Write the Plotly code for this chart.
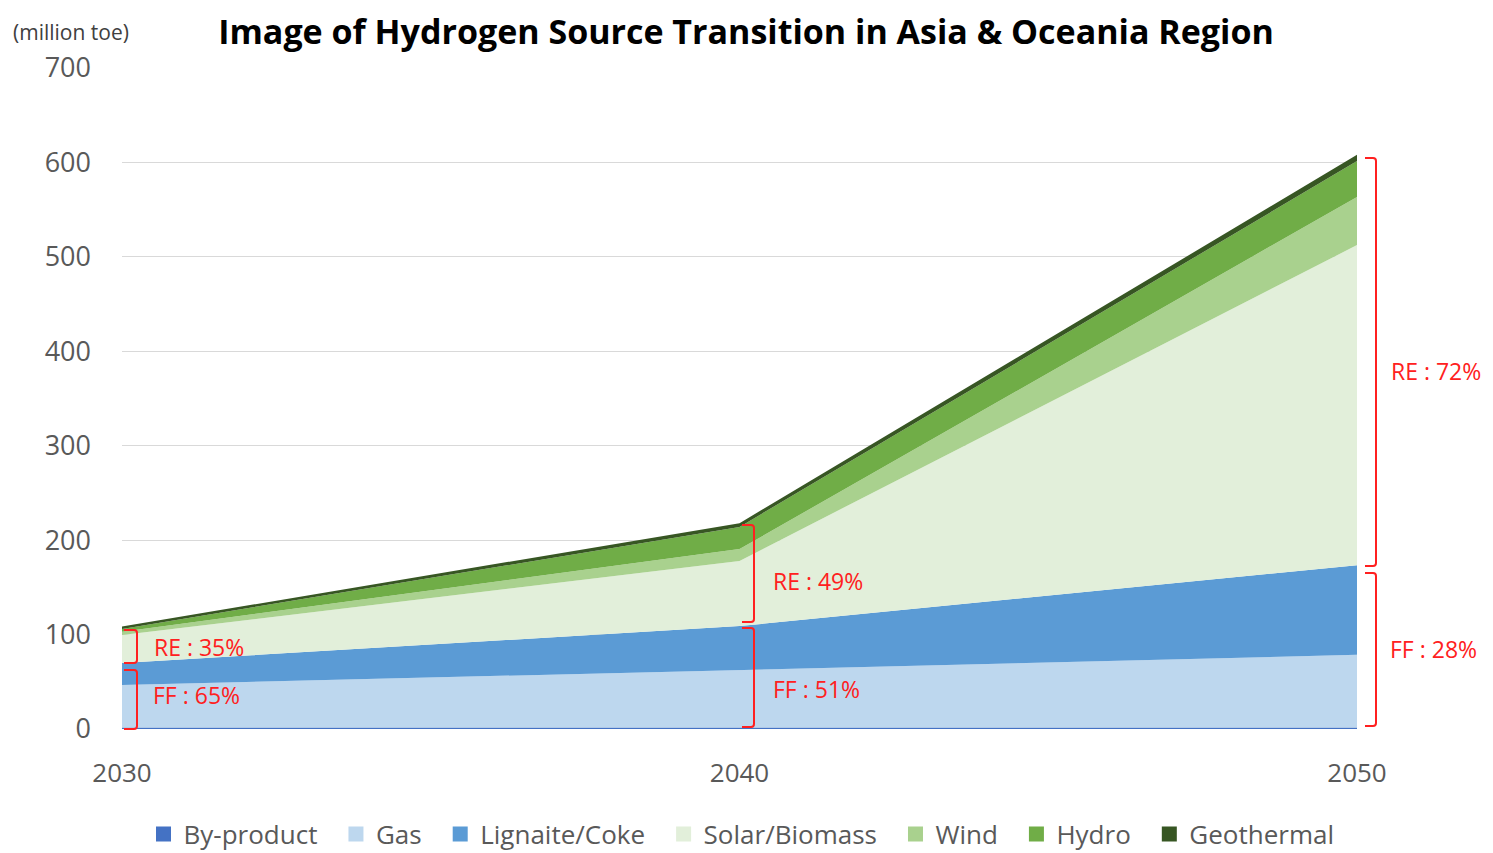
import plotly.graph_objects as go

years = [2030, 2040, 2050]
series_names = ["By-product", "Gas", "Lignaite/Coke", "Solar/Biomass", "Wind", "Hydro", "Geothermal"]
by_product = [1.5, 1.5, 1.5]
gas = [45, 61, 77]
lignite_coke = [23.5, 46.5, 95]
solar_biomass = [29.5, 69, 339]
wind = [3.5, 12.5, 51]
hydro = [3, 23.5, 38]
geothermal = [2.5, 4, 6.5]
colors = ["#4472C4", "#BDD7EE", "#5B9BD5", "#E2EFDA", "#A9D18E", "#70AD47", "#375623"]
share_labels = ["RE : 35%", "FF : 65%", "RE : 49%", "FF : 51%", "RE : 72%", "FF : 28%"]
y_ticks = [0, 100, 200, 300, 400, 500, 600, 700]

values = [by_product, gas, lignite_coke, solar_biomass, wind, hydro, geothermal]

# the page places the figure 8px in from the top-left corner
OFF = 8
W, H = 1485, 845
# plot area in page pixels
PL, PR, PT, PB = 122, 1357, 68, 729
L, R, T, B = PL - OFF, PR - OFF, PT - OFF, PB - OFF


def px(x):
    return (x - PL) / (PR - PL)


def py(y):
    return (PB - y) / (PB - PT)


FONT = "Open Sans"
GRAY = "#595959"
RED = "#FF2020"

fig = go.Figure()
for name, vals, col in zip(series_names, values, colors):
    fig.add_trace(go.Scatter(
        x=years, y=vals, name=name, stackgroup="one", mode="lines",
        line=dict(width=0, color=col), fillcolor=col, showlegend=False,
        hoverinfo="x+y+name",
    ))
for name, col in zip(series_names, colors):
    fig.add_trace(go.Scatter(
        x=[None], y=[None], name=name + "\u00a0\u00a0", mode="markers",
        marker=dict(symbol="square", size=15, color=col), showlegend=True,
    ))

shapes = []


def bracket(xl, xr, yt, yb, r=3):
    path = (f"M {px(xl)},{py(yt)} L {px(xr - r)},{py(yt)} Q {px(xr)},{py(yt)} {px(xr)},{py(yt + r)} "
            f"L {px(xr)},{py(yb - r)} Q {px(xr)},{py(yb)} {px(xr - r)},{py(yb)} L {px(xl)},{py(yb)}")
    shapes.append(dict(type="path", path=path, xref="paper", yref="paper",
                       line=dict(color=RED, width=2)))


bracket(124, 137, 630, 663)
bracket(124, 137, 670, 729)
bracket(742, 754, 525, 622)
bracket(742, 754, 628, 727)
bracket(1365, 1376, 158, 566)
bracket(1365, 1376, 573, 726)

label_pos = [(152, 647), (151, 695), (771, 581), (771, 689), (1389, 371), (1388, 649)]
annotations = []
for txt, (x, y) in zip(share_labels, label_pos):
    annotations.append(dict(text=txt, x=px(x), y=py(y), xref="paper", yref="paper",
                            xanchor="left", yanchor="middle", showarrow=False,
                            font=dict(family=FONT, size=23, color=RED)))
annotations.append(dict(text="(million toe)", x=px(71), y=py(32), xref="paper", yref="paper",
                        xanchor="center", yanchor="middle", showarrow=False,
                        font=dict(family=FONT, size=21, color="#404040")))

fig.update_layout(
    width=W, height=H,
    margin=dict(l=L, r=W - R, t=T, b=H - B),
    paper_bgcolor="white", plot_bgcolor="white",
    title=dict(text="<b>Image of Hydrogen Source Transition in Asia &amp; Oceania Region</b>",
               x=(746 - OFF) / W, xref="container", y=1 - (32 - OFF) / H, yref="container",
               xanchor="center", yanchor="middle",
               font=dict(family=FONT, size=34, color="black")),
    xaxis=dict(range=[2030, 2050], tickvals=years, ticktext=[str(y) for y in years],
               showgrid=False, zeroline=False, showline=False,
               ticks="", ticklabelstandoff=26,
               tickfont=dict(family=FONT, size=26, color=GRAY)),
    yaxis=dict(range=[0, 700], tickvals=y_ticks, showgrid=True, gridcolor="#D9D9D9", gridwidth=1,
               zeroline=False, showline=False, ticks="", ticklabelstandoff=30,
               tickfont=dict(family=FONT, size=27, color=GRAY)),
    legend=dict(orientation="h", xref="container", x=(748 - OFF) / W, xanchor="center",
                yref="container", y=1 - (834 - OFF) / H, yanchor="middle",
                font=dict(family=FONT, size=26, color=GRAY), itemwidth=30,
                traceorder="normal", tracegroupgap=0, bgcolor="rgba(0,0,0,0)"),
    shapes=shapes, annotations=annotations,
    showlegend=True,
)

fig.write_html("out.html")
